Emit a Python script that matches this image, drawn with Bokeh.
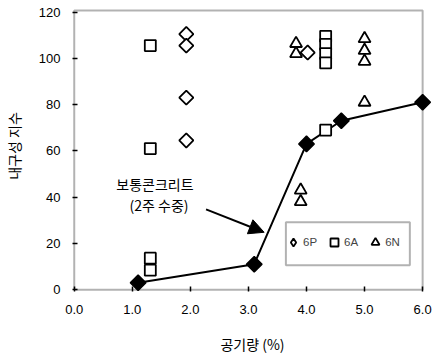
import math
from bokeh.plotting import figure
from bokeh.models import (Range1d, FixedTicker, PrintfTickFormatter, BoxAnnotation,
                          Arrow, NormalHead, Label, Legend, LegendItem)
from bokeh.embed import file_html
from bokeh.resources import INLINE

# --- data ---
ref_x = [1.1, 3.1, 4.0, 4.6, 6.0]          # 보통콘크리트 (2주 수중)
ref_y = [3, 11, 63, 73, 81]
p6_x = [1.93, 1.93, 1.93, 1.93, 4.02]
p6_y = [110.5, 105.5, 83, 64.5, 102.5]
a6_x = [1.31, 1.31, 1.31, 1.31, 4.33, 4.33, 4.33, 4.33, 4.33]
a6_y = [105.5, 61, 13.6, 8.4, 109.5, 106, 102, 98, 69]
n6_x = [3.82, 3.82, 3.9, 3.9, 5.0, 5.0, 5.0, 5.0]
n6_y = [106.4, 102, 43, 38, 108.5, 103.4, 98.7, 81]
x_ticks = [0, 1, 2, 3, 4, 5, 6]
y_ticks = [0, 20, 40, 60, 80, 100, 120]
series_names = ["6P", "6A", "6N"]
x_title = "공기량 (%)"
y_title = "내구성 지수"

LAT = "Liberation Sans"
KR = "Noto Sans CJK KR"

p = figure(width=433, height=356, output_backend="svg", toolbar_location=None,
           x_range=Range1d(-0.03, 6.17), y_range=Range1d(-0.8, 125),
           min_border_left=71, min_border_right=1, min_border_top=0, min_border_bottom=65,
           background_fill_color="white", border_fill_color="white")
p.outline_line_color = None
p.grid.visible = False

# frame box
p.add_layout(BoxAnnotation(left=0, right=6, bottom=0, top=120.65, fill_alpha=0,
                           line_color="black", line_width=2))

for ax in (p.xaxis[0], p.yaxis[0]):
    ax.axis_line_color = None
    ax.major_tick_in = 5
    ax.major_tick_out = 0
    ax.major_tick_line_width = 1.5
    ax.minor_tick_line_color = None
    ax.major_label_text_font = LAT
    ax.major_label_text_font_size = "13px"
    ax.major_label_text_color = "black"
    ax.axis_label_text_font = KR
    ax.axis_label_text_font_size = "14px"
    ax.axis_label_text_font_style = "normal"
    ax.axis_label_text_color = "black"

p.xaxis.ticker = FixedTicker(ticks=x_ticks)
p.xaxis.formatter = PrintfTickFormatter(format="%.1f")
p.xaxis.major_label_standoff = 13
p.xaxis.axis_label = x_title
p.xaxis.axis_label_standoff = 17

p.yaxis.ticker = FixedTicker(ticks=y_ticks)
p.yaxis.major_label_standoff = 12
p.yaxis.axis_label = y_title
p.yaxis.axis_label_standoff = 12

# reference line
p.line(ref_x, ref_y, line_color="black", line_width=2)
p.scatter(ref_x, ref_y, marker="square", angle=math.pi / 4, size=11,
          fill_color="black", line_color="black", line_width=1.5)

r6p = p.scatter(p6_x, p6_y, marker="square", angle=math.pi / 4, size=10,
                fill_color="white", line_color="black", line_width=1.8)
r6a = p.scatter(a6_x, a6_y, marker="square", size=11,
                fill_color="white", line_color="black", line_width=1.8)
r6n = p.scatter(n6_x, n6_y, marker="triangle", size=12,
                fill_color=None, line_color="black", line_width=1.8)
# legend key (legend glyphs are drawn unrotated, so use a diamond marker there)
r6p_key = p.scatter([float("nan")], [float("nan")], marker="diamond", fill_color="white",
                    line_color="black", line_width=1.8)

# legend box
p.add_layout(BoxAnnotation(left=3.645, right=5.78, bottom=10.6, top=29.1, fill_alpha=0,
                           line_color="black", line_width=2))
legend = Legend(items=[LegendItem(label=series_names[0], renderers=[r6p_key]),
                       LegendItem(label=series_names[1], renderers=[r6a]),
                       LegendItem(label=series_names[2], renderers=[r6n])],
                orientation="horizontal", location=(211, 37),
                padding=0, margin=0, spacing=7,
                glyph_width=20, glyph_height=24, label_standoff=0,
                label_width=10, label_height=20,
                label_text_font=LAT, label_text_font_size="11.5px",
                border_line_color=None, background_fill_alpha=0)
p.add_layout(legend)

# annotation
p.add_layout(Label(x=1.39, y=45.5, text="보통콘크리트", text_align="center",
                   text_baseline="middle", text_font=KR, text_font_size="14px",
                   text_color="black"))
p.add_layout(Label(x=1.46, y=36.5, text="(2주 수중)", text_align="center",
                   text_baseline="middle", text_font=KR, text_font_size="14px",
                   text_color="black"))
p.add_layout(Arrow(x_start=2.27, y_start=34.7, x_end=3.27, y_end=24.8, line_width=2,
                   line_color="black",
                   end=NormalHead(size=15, fill_color="black", line_color="black")))

open("out.html", "w").write(file_html(p, INLINE))
